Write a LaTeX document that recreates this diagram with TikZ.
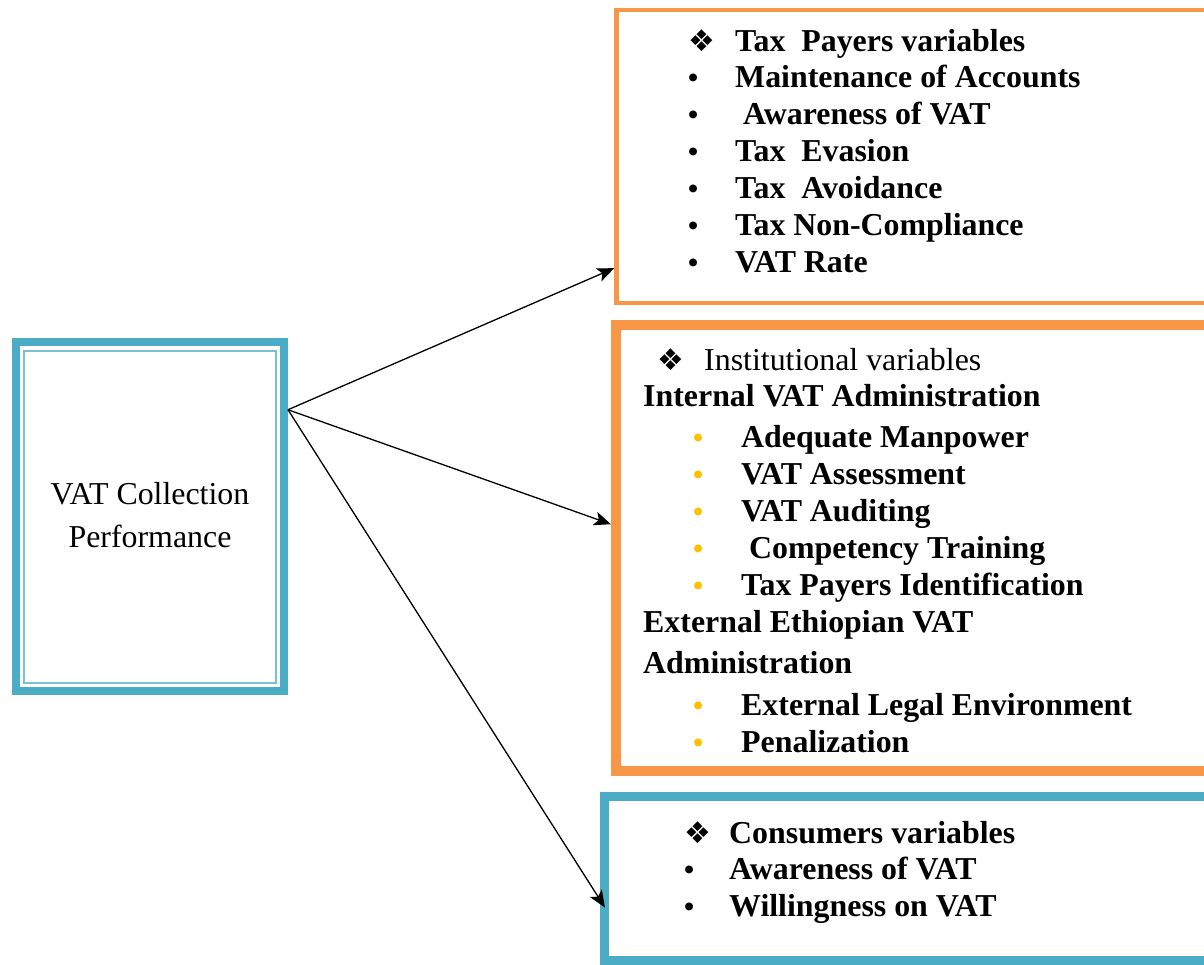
\documentclass[tikz,border=0pt]{standalone}
\usepackage{fontspec}
\setmainfont{Liberation Serif}
\newfontfamily\symfont{DejaVu Sans}
\usepackage{tikz}
\usetikzlibrary{arrows.meta,positioning}
\usepackage{xcolor}
\definecolor{vtteal}{RGB}{75,172,198}
\definecolor{vtlight}{RGB}{120,192,212}
\definecolor{vtorange}{RGB}{247,150,70}
\definecolor{vtgold}{RGB}{255,192,0}
\tikzstyle{arrow} = [line width=1.3pt,-{Stealth[length=17pt,width=14pt,inset=4pt]},color=black]
\tikzstyle{varbox} = [rectangle, draw, inner sep=0pt, fill=white]
\tikzstyle{listtext} = [anchor=base west, inner sep=0pt, font=\bfseries\fontsize{32}{37}\selectfont]
\newcommand{\dmd}{{\symfont\fontsize{30}{30}\selectfont ❖}}
\newcommand{\bul}{{\fontsize{29}{29}\selectfont •}}
\newcommand{\gbul}{\textcolor{vtgold}{\bul}}

\begin{document}
\begin{tikzpicture}[x=1bp,y=-1bp]
\useasboundingbox (0,0) rectangle (1204,965);
\clip (0,0) rectangle (1204,965);
\fill[white] (0,0) rectangle (1204,965);

% Dependent variable
\node[varbox, draw=vtteal, line width=8bp, minimum width=268bp, minimum height=349bp] (vat) at (150,516.5) {};
\node[rectangle, draw=vtlight, line width=2bp, minimum width=251bp, minimum height=332bp] (vatin) at (vat) {};
\node[anchor=base, inner sep=0pt, font=\fontsize{32}{44}\selectfont] (vatlbl) at (150,504) {
\begin{tabular}[t]{@{}c@{}}
VAT Collection\\
Performance
\end{tabular}
};

% Tax payers side
\node[varbox, draw=vtorange, line width=4.5bp, minimum width=603.5bp, minimum height=292.5bp] (tp) at (918.25,156.5) {};
\node[listtext] (tptxt) at (688,51) {
\begin{tabular}[t]{@{}l@{}}
\makebox[47bp][l]{\dmd}Tax\ \ Payers variables\\
\makebox[47bp][l]{\bul}Maintenance of Accounts\\
\makebox[47bp][l]{\bul}\ Awareness of VAT\\
\makebox[47bp][l]{\bul}Tax\ \ Evasion\\
\makebox[47bp][l]{\bul}Tax\ \ Avoidance\\
\makebox[47bp][l]{\bul}Tax Non-Compliance\\
\makebox[47bp][l]{\bul}VAT Rate
\end{tabular}
};

% Institutional side
\node[varbox, draw=vtorange, line width=10bp, minimum width=604bp, minimum height=446bp] (inst) at (918,548) {};
\node[listtext] (insttxt) at (643,370) {
\begin{tabular}[t]{@{}l@{}}
\hspace*{14bp}\makebox[47bp][l]{\dmd}{\mdseries Institutional variables}\\
Internal VAT Administration\\[4bp]
\hspace*{50bp}\makebox[48bp][l]{\gbul}Adequate Manpower\\
\hspace*{50bp}\makebox[48bp][l]{\gbul}VAT Assessment\\
\hspace*{50bp}\makebox[48bp][l]{\gbul}VAT Auditing\\
\hspace*{50bp}\makebox[48bp][l]{\gbul}\ Competency Training\\
\hspace*{50bp}\makebox[48bp][l]{\gbul}Tax Payers Identification\\
External Ethiopian VAT\\[5bp]
Administration\\[5bp]
\hspace*{50bp}\makebox[48bp][l]{\gbul}External Legal Environment\\
\hspace*{50bp}\makebox[48bp][l]{\gbul}Penalization
\end{tabular}
};

% Consumers side
\node[varbox, draw=vtteal, line width=9bp, minimum width=615.5bp, minimum height=164bp] (cons) at (912.25,878.5) {};
\node[listtext] (constxt) at (684,843) {
\begin{tabular}[t]{@{}l@{}}
\makebox[45bp][l]{\dmd}Consumers variables\\
\makebox[45bp][l]{\bul}Awareness of VAT\\
\makebox[45bp][l]{\bul}Willingness on VAT
\end{tabular}
};

% Links
\coordinate (src) at ([yshift=-72pt]vat.north east);
\draw[arrow] (src) -- ([yshift=37pt]tp.south west);
\draw[arrow] (src) -- ([yshift=-205pt]inst.north west);
\draw[arrow] (src) -- ([xshift=5pt,yshift=-116pt]cons.north west);
\end{tikzpicture}
\end{document}
